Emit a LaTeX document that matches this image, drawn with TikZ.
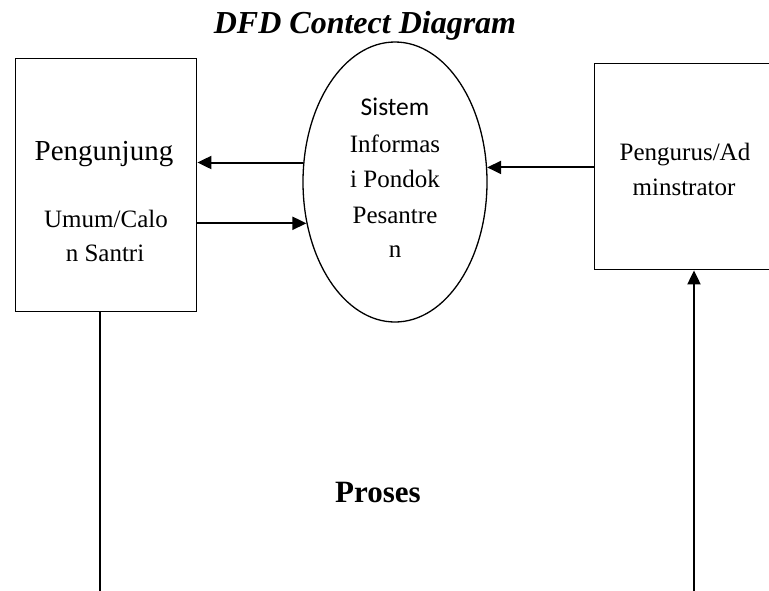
\documentclass[tikz,border=0pt]{standalone}
\usepackage{fontspec}
\setmainfont{Liberation Serif}
\newfontfamily\calib{Carlito}
\usetikzlibrary{arrows.meta,shapes.geometric}
\begin{document}
\begin{tikzpicture}[x=1pt,y=-1pt,
  entity/.style={draw,line width=1.4pt,inner sep=0pt,anchor=north west},
  proc/.style={draw,ellipse,line width=1.3pt,inner sep=0pt,minimum width=184pt,minimum height=280pt},
  flow/.style={line width=2pt,-{Triangle[length=14pt,width=13pt]}},
  plain/.style={line width=2pt},
  lbl/.style={inner sep=0pt,anchor=base,font=\fontsize{25}{30}\selectfont},
  big/.style={inner sep=0pt,anchor=base,font=\fontsize{29}{34}\selectfont},
  sans/.style={inner sep=0pt,anchor=base,font=\calib\fontsize{25.5}{30}\selectfont}]
\useasboundingbox (0,0) rectangle (769,590);
\clip (0,0) rectangle (769,590);
% title
\node[inner sep=0pt,anchor=base,font=\fontsize{32}{36}\selectfont\bfseries\itshape] (title) at (365,33) {DFD Contect Diagram};
% left entity
\node[entity,minimum width=181pt,minimum height=253pt] (pg) at (15,58) {};
\node[big] (pg1) at (104,160) {Pengunjung};
\node[lbl] (pg2) at (106,227) {Umum/Calo};
\node[lbl] (pg3) at (105,261) {n Santri};
% process
\node[proc] (sis) at (395,182) {};
\node[sans] (s1) at (395,115) {Sistem};
\node[lbl] (s2) at (395,152) {Informas};
\node[lbl] (s3) at (395,187) {i Pondok};
\node[lbl] (s4) at (395,223) {Pesantre};
\node[lbl] (s5) at (395,257) {n};
% right entity (cut by the page edge)
\node[entity,minimum width=200pt,minimum height=206pt] (adm) at (594,63) {};
\node[lbl] (a1) at (685,160) {Pengurus/Ad};
\node[lbl] (a2) at (684,195) {minstrator};
% process label
\node[inner sep=0pt,anchor=base,font=\fontsize{31}{36}\selectfont\bfseries] (pr) at (378,502) {Proses};
% flows
\draw[flow] (sis.168.2) -- (pg.east |- sis.168.2);
\draw[flow] (pg.east |- sis.205) -- (sis.205);
\draw[flow] (adm.west |- sis.9.9) -- (sis.9.9);
\coordinate (lb) at (100,592);
\coordinate (rb) at (694,592);
\draw[plain] (pg.south -| lb) -- (lb);
\draw[flow] (rb) -- (adm.south -| rb);
\end{tikzpicture}
\end{document}
